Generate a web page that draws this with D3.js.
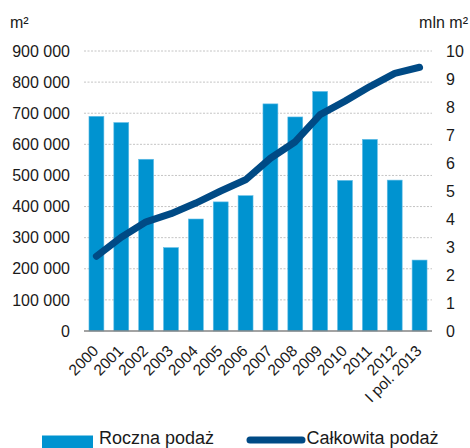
<!DOCTYPE html>
<html>
<head>
<meta charset="utf-8">
<script src="https://cdn.jsdelivr.net/npm/d3@7"></script>
<style>
  html, body { margin: 0; padding: 0; background: #fff; }
  svg { display: block; font-family: "Liberation Sans", Arial, sans-serif; }
</style>
</head>
<body>
<svg id="chart" width="470" height="448"></svg>
<script>
// Years / periods on the category axis
const categories = ["2000", "2001", "2002", "2003", "2004", "2005", "2006",
  "2007", "2008", "2009", "2010", "2011", "2012", "I pol. 2013"];
// Annual new supply, m²
const annualSupply = [690000, 670000, 552000, 268000, 360000, 415000, 435000,
  730000, 688000, 770000, 484000, 616000, 485000, 228000];
// Cumulative stock, mln m²
const totalSupply = [2.67, 3.35, 3.9, 4.19, 4.57, 5.0, 5.4,
  6.17, 6.76, 7.73, 8.21, 8.73, 9.2, 9.42];
// Axis ticks
const leftTicks = [0, 100000, 200000, 300000, 400000, 500000, 600000, 700000, 800000, 900000];
const rightTicks = [0, 1, 2, 3, 4, 5, 6, 7, 8, 9, 10];
const legendLabels = ["Roczna podaż", "Całkowita podaż"];

const barColor = "#0093d0";
const lineColor = "#004a85";

const svg = d3.select("#chart");
const plot = { left: 84, right: 432, top: 51, bottom: 331 };

const x = d3.scaleBand().domain(categories).range([plot.left, plot.right]).paddingInner(0.4).paddingOuter(0.2);
const yL = d3.scaleLinear().domain([0, 900000]).range([plot.bottom, plot.top]);
const yR = d3.scaleLinear().domain([0, 10]).range([plot.bottom, plot.top]);

const fmt = v => d3.format(",")(v).replace(/,/g, " ");

// dotted gridlines
svg.append("g")
  .selectAll("line")
  .data(leftTicks.filter(d => d > 0))
  .join("line")
  .attr("x1", plot.left).attr("x2", plot.right)
  .attr("y1", d => yL(d)).attr("y2", d => yL(d))
  .attr("stroke", "#c4c4c4").attr("stroke-width", 1)
  .attr("stroke-dasharray", "2,1.5");

// left axis
const gL = svg.append("g")
  .attr("transform", `translate(${plot.left - 14},0)`)
  .call(d3.axisLeft(yL).tickValues(leftTicks).tickFormat(fmt).tickSize(0).tickPadding(0));
gL.select(".domain").remove();
gL.selectAll("text").attr("font-size", 16).attr("fill", "#1a1a1a").attr("font-family", "Liberation Sans, Arial, sans-serif");

// right axis
const gR = svg.append("g")
  .attr("transform", `translate(${plot.right + 14},0)`)
  .call(d3.axisRight(yR).tickValues(rightTicks).tickFormat(d3.format("d")).tickSize(0).tickPadding(0));
gR.select(".domain").remove();
gR.selectAll("text").attr("font-size", 16).attr("fill", "#1a1a1a").attr("font-family", "Liberation Sans, Arial, sans-serif");

// unit labels
svg.append("text").attr("x", 10).attr("y", 28).attr("font-size", 16).attr("fill", "#1a1a1a").text("m²");
svg.append("text").attr("x", 468).attr("y", 28).attr("text-anchor", "end").attr("font-size", 16).attr("fill", "#1a1a1a").text("mln m²");

// bars
svg.append("g")
  .selectAll("rect")
  .data(annualSupply)
  .join("rect")
  .attr("x", (d, i) => x(categories[i]))
  .attr("width", x.bandwidth())
  .attr("y", d => yL(d))
  .attr("height", d => yL(0) - yL(d))
  .attr("fill", barColor)
  .attr("stroke", "#62bde6").attr("stroke-width", 0.6);

// category axis
const gX = svg.append("g")
  .attr("transform", `translate(0,${plot.bottom})`)
  .call(d3.axisBottom(x).tickSize(0).tickPadding(0));
gX.select(".domain").attr("stroke", "#858585").attr("stroke-width", 1.5).attr("d", `M${plot.left},0H${plot.right}`);
gX.selectAll("text")
  .attr("font-size", 15.5).attr("fill", "#1a1a1a").attr("font-family", "Liberation Sans, Arial, sans-serif")
  .attr("text-anchor", "end")
  .attr("dy", null).attr("y", 0)
  .attr("transform", "translate(3,21) rotate(-45)");

// cumulative line
const line = d3.line()
  .x((d, i) => x(categories[i]) + x.bandwidth() / 2)
  .y(d => yR(d));
svg.append("path")
  .datum(totalSupply)
  .attr("d", line)
  .attr("fill", "none")
  .attr("stroke", lineColor)
  .attr("stroke-width", 7)
  .attr("stroke-linecap", "round")
  .attr("stroke-linejoin", "round");

// legend
const lg = svg.append("g");
lg.append("rect").attr("x", 42).attr("y", 435.5).attr("width", 51).attr("height", 12.5).attr("fill", barColor);
lg.append("text").attr("x", 99).attr("y", 444).attr("font-size", 18).attr("fill", "#1a1a1a").text(legendLabels[0]);
lg.append("line").attr("x1", 250).attr("x2", 302).attr("y1", 440).attr("y2", 440)
  .attr("stroke", lineColor).attr("stroke-width", 7).attr("stroke-linecap", "round");
lg.append("text").attr("x", 306.5).attr("y", 444).attr("font-size", 18).attr("fill", "#1a1a1a").text(legendLabels[1]);
</script>
</body>
</html>
